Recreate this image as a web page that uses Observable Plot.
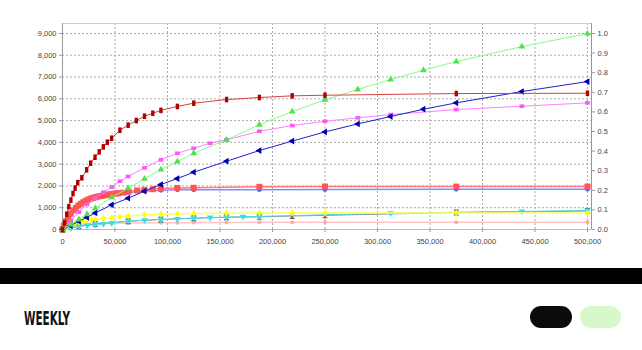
<!DOCTYPE html>
<html><head><meta charset="utf-8">
<script src="https://cdn.jsdelivr.net/npm/d3@7"></script>
<script src="https://cdn.jsdelivr.net/npm/@observablehq/plot@0.6"></script>
<style>
html,body{margin:0;padding:0;background:#fff;}
#wrap{position:relative;width:642px;height:350px;overflow:hidden;background:#fff}
#chart{position:absolute;left:0;top:0}
#bar{position:absolute;left:0;top:268px;width:642px;height:16px;background:#000}
#foot{position:absolute;left:0;top:284px}
</style></head>
<body>
<div id="wrap"><div id="chart"></div><div id="bar"></div>
<svg id="foot" width="642" height="66">
  <text x="24" y="41" font-family="DejaVu Sans Condensed, DejaVu Sans" font-weight="bold" font-size="20" fill="#111" textLength="46" lengthAdjust="spacingAndGlyphs">WEEKLY</text>
  <rect x="530" y="22" width="42" height="22" rx="11" fill="#0b0b0b"/>
  <rect x="580" y="22" width="41" height="22" rx="11" fill="#d7f8c8"/>
</svg>
</div>
<script>
const xTicks = [0,50000,100000,150000,200000,250000,300000,350000,400000,450000,500000];
const yTicks = [0,1000,2000,3000,4000,5000,6000,7000,8000,9000];
const rightTickValues = [0,0.1,0.2,0.3,0.4,0.5,0.6,0.7,0.8,0.9,1.0];
const rightScale = 9000; // right axis 1.0 aligns with left 9,000

// x values in thousands
const darkRedX = [0,2,4,6,8,10,12,14.5,18.4,23,26.8,31,35,38.9,42.7,46.8,54.7,62.5,70.3,78.1,86,93.75,109.4,125,156.25,187.5,218.75,250,375,500];
const darkRedY = [0,300,700,1050,1350,1650,1900,2150,2373,2740,3043,3320,3566,3796,4008,4191,4560,4790,5003,5200,5338,5470,5650,5800,5967,6060,6137,6165,6242,6256];

const greenX = [0,7.8,15.6,23.4,31.25,46.9,62.5,78.1,93.75,109.4,125,156.25,187.5,218.75,250,281.25,312.5,343.75,375,437.5,500];
const greenY = [0,230,460,700,978,1480,1896,2327,2754,3121,3502,4117,4810,5416,5953,6430,6885,7312,7711,8400,8996];

const blueX = [0,7.8,15.6,23.4,31.25,46.9,62.5,78.1,93.75,109.4,125,156.25,187.5,218.75,250,281.25,312.5,343.75,375,437.5,500];
const blueY = [0,180,380,560,760,1134,1437,1760,2066,2341,2630,3135,3626,4060,4480,4850,5187,5522,5815,6334,6793];

const magentaX = [0,7.8,15.6,23.4,31.25,39,46.9,54.7,62.5,78.1,93.75,109.4,125,140.6,156.25,187.5,218.75,250,281.25,312.5,375,437.5,500];
const magentaY = [0,400,800,1150,1450,1712,1950,2217,2433,2832,3199,3502,3732,3962,4117,4512,4774,4971,5127,5278,5508,5660,5815];

const salmonX = [0,1.3,3.4,5.5,7.9,10.3,12.7,15,17.4,19.8,22.2,24.6,27,29.3,31.7,34,36.5,38.9,41.3,43.6,46,48.4,50.7,53,58,63,71,78,86,93.75,109.4,125,187.5,250,375,500];
const salmonY = [0,183,380,565,730,872,990,1100,1180,1253,1320,1377,1420,1455,1485,1515,1540,1560,1585,1607,1622,1638,1652,1666,1690,1740,1790,1822,1850,1880,1910,1914,1960,1970,1970,1970];

const circleX = [0,3.9,7.8,11.7,15.6,19.5,23.4,27.3,31.25,39,46.9,54.7,62.5,78.1,93.75,109.4,125,187.5,250,375,500];
const circleY = [0,400,700,930,1100,1240,1340,1420,1480,1560,1610,1660,1700,1760,1800,1822,1822,1830,1836,1845,1850];

const yellowX = [0,3.9,7.8,11.7,15.6,19.5,23.4,27.3,31.25,39,46.9,54.7,62.5,78.1,93.75,109.4,125,156.25,187.5,218.75,250,375,500];
const yellowY = [0,120,220,290,340,380,410,440,460,500,540,580,620,670,700,720,740,750,755,755,755,755,755];

const cyanX = [0,7.8,15.6,23.4,31.25,39,46.9,62.5,78.1,93.75,109.4,125,140.6,156.25,171.9,187.5,312.5,437.5,500];
const cyanY = [0,60,140,190,230,260,300,380,430,460,490,520,550,565,590,600,750,830,872];

const grayX = [0,15.6,31.25,62.5,93.75,125,156.25,187.5,218.75,250,375,500];
const grayY = [0,150,250,380,460,520,560,580,620,650,780,850];

const pinkX = [0,3.9,7.8,15.6,23.4,31.25,46.9,62.5,93.75,109.4,125,156.25,187.5,218.75,250,375,500];
const pinkY = [0,100,160,220,250,270,290,300,306,315,320,325,330,335,337,337,337];

const rows = (xs, ys) => xs.map((x, i) => ({x: x * 1000, y: ys[i]}));

const sym = (fn) => ({draw(ctx, size) { fn(ctx, Math.sqrt(size / Math.PI)); }});
const tallRect = sym((c, r) => c.rect(-r * 0.6, -r, r * 1.2, r * 2));
const wideRect = sym((c, r) => c.rect(-r, -r * 0.75, r * 2, r * 1.5));
const iBeam = sym((c, r) => { c.rect(-r * 0.3, -r, r * 0.6, r * 2); c.rect(-r * 0.8, -r, r * 1.6, r * 0.4); c.rect(-r * 0.8, r * 0.6, r * 1.6, r * 0.4); });

const series = [
  {d: rows(pinkX, pinkY), line: "#ffc4c4", fill: "#ffaaaa", symbol: "circle", r: 2, w: 1.5},
  {d: rows(grayX, grayY), line: "#8a8a8a", fill: "#555", symbol: iBeam, r: 3, w: 1},
  {d: rows(cyanX, cyanY), line: "#50d8d8", fill: "#30e0f0", symbol: "triangle", r: 2.5, rotate: 180, w: 1},
  {d: rows(yellowX, yellowY), line: "#ffff60", fill: "#ffff00", symbol: "diamond", r: 2.3, w: 1.5},
  {d: rows(circleX, circleY), line: "#8888ff", fill: "#4a6aff", symbol: "circle", r: 2.4, w: 1.5},
  {d: rows(salmonX, salmonY), line: "#ff7a7a", fill: "#ff5555", symbol: "square", r: 3.4, w: 1.5},
  {d: rows(magentaX, magentaY), line: "#ff80ff", fill: "#ff55ff", symbol: wideRect, r: 2.4, w: 1},
  {d: rows(blueX, blueY), line: "#2020cc", fill: "#0000b0", symbol: "triangle", r: 2.5, rotate: -90, w: 1},
  {d: rows(greenX, greenY), line: "#80ff80", fill: "#50e050", symbol: "triangle", r: 2.5, w: 1},
  {d: rows(darkRedX, darkRedY), line: "#d84040", fill: "#b00000", symbol: tallRect, r: 2.8, w: 1}
];

const seriesMarks = series.flatMap(s => [
  Plot.line(s.d, {x: "x", y: "y", stroke: s.line, strokeWidth: s.w}),
  Plot.dot(s.d, {x: "x", y: "y", symbol: s.symbol, r: s.r, fill: s.fill, stroke: "none", rotate: s.rotate || 0})
]);

const chart = Plot.plot({
  width: 642, height: 256,
  marginLeft: 62, marginRight: 51, marginTop: 23, marginBottom: 27,
  x: {domain: [0, 503810], label: null},
  y: {domain: [0, 9459], label: null},
  style: {fontFamily: "Liberation Sans, Arial, sans-serif", fontSize: "7.5px", color: "#444", background: "#fff"},
  marks: [
    Plot.gridX(xTicks.slice(1), {stroke: "#aaa", strokeOpacity: 1, strokeDasharray: "2,2"}),
    Plot.gridY(yTicks.slice(1), {stroke: "#aaa", strokeOpacity: 1, strokeDasharray: "2,2"}),
    Plot.frame({stroke: "#cfcfcf"}),
    Plot.ruleX([0], {stroke: "#999"}),
    Plot.ruleY([0], {stroke: "#bbb"}),
    Plot.axisY(yTicks, {anchor: "left", label: null, tickFormat: d3.format(","), tickSize: 3, tickPadding: 3, stroke: "#999"}),
    Plot.axisY(rightTickValues.map(v => v * rightScale), {anchor: "right", label: null, tickFormat: d => (d / rightScale).toFixed(1), tickSize: 3, tickPadding: 3, stroke: "#999"}),
    Plot.axisX(xTicks, {label: null, tickFormat: d3.format(","), tickSize: 3, tickPadding: 6, stroke: "#999"}),
    Plot.ruleX([503810], {stroke: "#999"}),
    ...seriesMarks
  ]
});
document.getElementById("chart").append(chart);
</script>
</body></html>
